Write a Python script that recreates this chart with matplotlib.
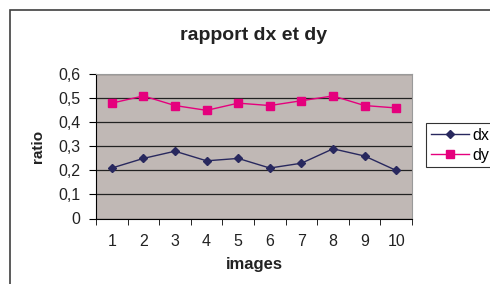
import numpy as np
import matplotlib
matplotlib.use('Agg')
import matplotlib.pyplot as plt
from matplotlib.patches import Rectangle
from matplotlib.ticker import FuncFormatter

plt.rcParams['font.family'] = ['Liberation Sans', 'DejaVu Sans']

images = [1, 2, 3, 4, 5, 6, 7, 8, 9, 10]
dx = [0.21, 0.25, 0.28, 0.24, 0.25, 0.21, 0.23, 0.29, 0.26, 0.20]
dy = [0.48, 0.51, 0.47, 0.45, 0.48, 0.47, 0.49, 0.51, 0.47, 0.46]
yticks = [0, 0.1, 0.2, 0.3, 0.4, 0.5, 0.6]

fig = plt.figure(figsize=(4.9, 2.84), dpi=100)
fig.patch.set_facecolor('white')

# chart area border (right and bottom go past the image)
fig.patches.append(Rectangle((10/490, -0.1), 1.0, 1 - 10/284 + 0.1, transform=fig.transFigure,
                             fill=False, edgecolor='#404040', linewidth=1.2))

ax = fig.add_axes([96/490, 1 - 218.5/284, 316/490, 144.2/284])
ax.set_facecolor('#C0B8B5')

ax.plot(images, dx, color='#28285E', marker='D', markersize=4.5, linewidth=1, label='dx')
ax.plot(images, dy, color='#E5007D', marker='s', markersize=5.5, linewidth=1, label='dy')

ax.set_xlim(0.5, 10.5)
ax.set_ylim(0, 0.6)
ax.set_yticks(yticks)
ax.yaxis.set_major_formatter(FuncFormatter(lambda v, p: ('%.1f' % v).replace('.', ',') if v != 0 else '0'))
ax.set_xticks(images)
ax.set_xticks(np.arange(0.5, 11, 1), minor=True)
ax.tick_params(axis='x', which='major', length=0, pad=11, labelsize=11.5, labelcolor='#222222')
ax.tick_params(axis='x', which='minor', length=4, direction='out', color='black')
ax.tick_params(axis='y', length=5, direction='out', labelsize=11.5, pad=6, labelcolor='#222222')
ax.grid(axis='y', color='#222222', linewidth=0.9)
ax.set_axisbelow(True)

for s in ['top', 'right']:
    ax.spines[s].set_color('#9A9A9A')
for s in ['left', 'bottom']:
    ax.spines[s].set_color('black')

ax.set_title('rapport dx et dy', fontsize=14, fontweight='bold', pad=25, color='#222222')
ax.set_xlabel('images', fontsize=12, fontweight='bold', labelpad=6, color='#222222')
ax.set_ylabel('ratio', fontsize=11, fontweight='bold', labelpad=10, color='#222222')

leg = ax.legend(loc='upper left', bbox_to_anchor=(426/490, 1 - 123/284), bbox_transform=fig.transFigure,
                frameon=True, fancybox=False, fontsize=11.5, handlelength=2.4, borderpad=0.3,
                labelspacing=0.3, handletextpad=0.2, borderaxespad=0)
leg.get_frame().set_edgecolor('black')
leg.get_frame().set_linewidth(0.8)

fig.savefig('out.png', dpi=100)
